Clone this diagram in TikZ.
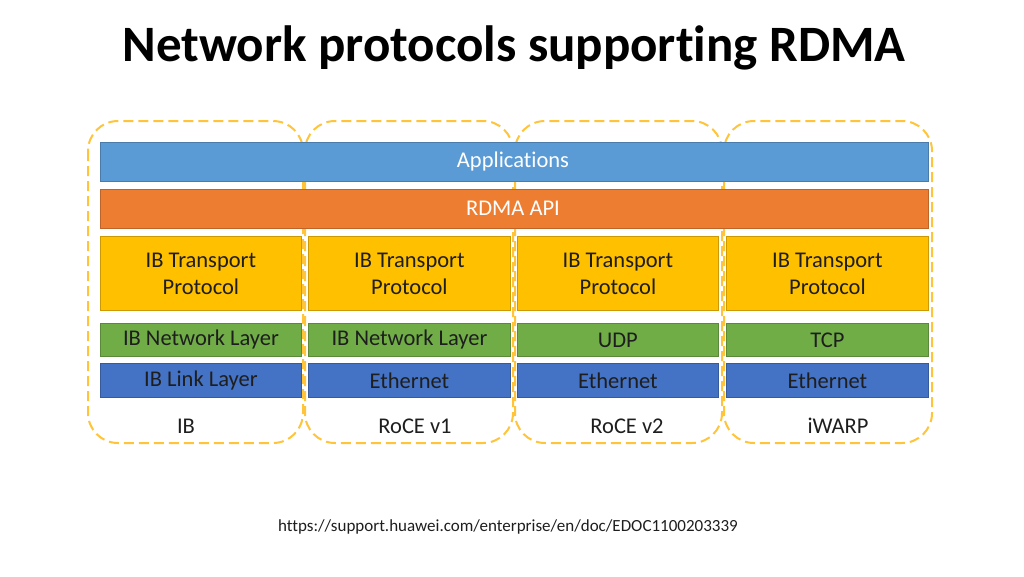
\documentclass[tikz,border=0pt]{standalone}
\usepackage{fontspec}
\setmainfont{Carlito}[Ligatures=NoCommon]
\definecolor{appblue}{HTML}{5B9BD5}
\definecolor{apporange}{HTML}{ED7D31}
\definecolor{gold}{HTML}{FFC000}
\definecolor{lgreen}{HTML}{70AD47}
\definecolor{dblue}{HTML}{4472C4}
\definecolor{dash}{HTML}{FFC43A}
\definecolor{txt}{HTML}{1E1E1E}
\tikzset{
  bar/.style={draw=#1!80!black, line width=0.8pt, fill=#1, anchor=north west, inner sep=0pt},
  lbl/.style={font=\fontsize{22.5}{27}\selectfont, text=txt, align=center},
  grp/.style={draw=dash, line width=2pt, dash pattern=on 10pt off 5pt, rounded corners=30pt},
}
\begin{document}
\begin{tikzpicture}[x=1pt,y=-1pt]
\useasboundingbox (0,0) rectangle (1024,576);
\node[font=\fontsize{51}{55}\selectfont\bfseries, text=black] (title) at (514,48) {Network protocols supporting RDMA};
% group outlines
\draw[grp] (88,121) rectangle (303,443);
\draw[grp] (305,121) rectangle (513,443);
\draw[grp] (515,121) rectangle (722,443);
\draw[grp] (724,121) rectangle (932,443);
% full-width bars
\node[bar=appblue, minimum width=828pt, minimum height=39pt] (app) at (100,142) {};
\node[font=\fontsize{22.5}{27}\selectfont, text=white] at (513,161.5) {Applications};
\node[bar=apporange, minimum width=828pt, minimum height=39pt] (api) at (100,189) {};
\node[font=\fontsize{22.5}{27}\selectfont, text=white] at (513,208.5) {RDMA API};
% columns
\foreach \x/\w/\n/\net/\link/\lab/\lx in {
  100/201/1/IB Network Layer/IB Link Layer/IB/186,
  308/202/2/IB Network Layer/Ethernet/RoCE v1/415,
  517/201/3/UDP/Ethernet/RoCE v2/627,
  726/202/4/TCP/Ethernet/iWARP/838}{
  \node[bar=gold, minimum width=\w pt, minimum height=74pt] (tr\n) at (\x,236) {};
  \node[lbl] at (tr\n.center) {IB Transport\\Protocol};
  \node[bar=lgreen, minimum width=\w pt, minimum height=33pt] (nw\n) at (\x,323) {};
  \node[lbl] at (nw\n.center) {\net};
  \node[bar=dblue, minimum width=\w pt, minimum height=34pt] (ln\n) at (\x,363) {};
  \node[lbl] at (ln\n.center) {\link};
  \node[lbl] (lab\n) at (\lx,426) {\lab};
}
\node[font=\fontsize{17}{20}\selectfont, text=txt] (url) at (508,527) {https://support.huawei.com/enterprise/en/doc/EDOC1100203339};
\end{tikzpicture}
\end{document}
